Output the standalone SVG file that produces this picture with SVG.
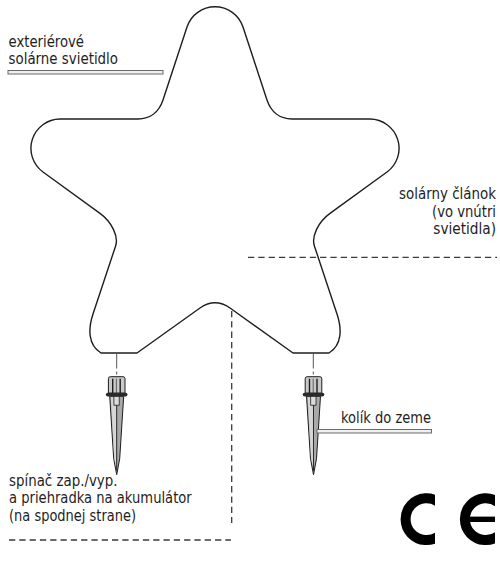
<svg xmlns="http://www.w3.org/2000/svg" width="500" height="562" viewBox="0 0 500 562">
  <style>
    .outline{fill:none;stroke:#1e1e1e;stroke-width:1.4;stroke-linejoin:round}
    .lbl{font-family:"Liberation Sans Narrow","DejaVu Sans Condensed","Liberation Sans",sans-serif;font-size:15.5px;fill:#1e1e1e}
    .r{text-anchor:end}
    .dash{fill:none;stroke:#3a3a3a;stroke-width:1.3;stroke-dasharray:6.3 4}
    .stub{fill:none;stroke:#555;stroke-width:1;stroke-dasharray:15 3 3 3}
    .dbl{fill:#f0f0f0;stroke:#6a6a6a;stroke-width:1}
    .ce{fill:none;stroke:#000;stroke-width:10}
  </style>
  <defs>
    <!-- ground stake, origin at top centre of the cap -->
    <g id="stake-shape">
      <path d="M -7,19.5 H 7 L 3,82 L 0,98 L -3,82 Z" fill="#a9a9a9" stroke="#1e1e1e" stroke-width="1" stroke-linejoin="round"/>
      <path d="M -5.8,20.5 H -0.6 V 90 L -2.4,82 Z" fill="#d6d6d6"/>
      <path d="M 0,20 V 94" stroke="#1e1e1e" stroke-width="0.9"/>
      <rect x="-2.8" y="19.5" width="5.3" height="9" fill="#dcdcdc" stroke="#1e1e1e" stroke-width="0.8"/>
      <path d="M -8.3,16.5 V 2 Q -8.3,0 -6.3,0 H 6.3 Q 8.3,0 8.3,2 V 16.5 Z" fill="#c9c9c9" stroke="#1e1e1e" stroke-width="1"/>
      <path d="M -4,2 V 16.5 M 3.5,2 V 16.5" stroke="#1e1e1e" stroke-width="1.4"/>
      <path d="M -0.3,2 V 16.5" stroke="#444" stroke-width="0.8"/>
      <rect x="-10.8" y="16" width="21.6" height="3.8" rx="1.9" fill="#2a2a2a"/>
    </g>
    <clipPath id="clip-c"><rect x="390" y="488" width="45" height="64"/></clipPath>
    <clipPath id="clip-e"><rect x="450" y="488" width="45" height="64"/></clipPath>
  </defs>

  <!-- star-shaped lamp body -->
  <g id="lamp">
    <path class="outline" d="M 187,27 A 29.5 29.5 0 0 1 243,27 L 267,100 C 271,112 280,119 292,119 L 370,119 A 29.3 29.3 0 0 1 387,172 L 330,213.4 C 318.2,221.9 311.2,236.6 314.4,246 L 337,314 C 342,329 342,345 329,353 L 293,353 L 230,308 Q 215,297.5 200,308 L 137,353 L 101,353 C 88,345 88,329 93,314 L 115.6,246 C 118.8,236.6 111.8,221.9 100,213.4 L 43,172 A 29.3 29.3 0 0 1 60,119 L 138,119 C 150,119 159,112 163,100 Z"/>
  </g>

  <!-- stakes -->
  <g id="stake-left"><use href="#stake-shape" x="116.7" y="376.7"/></g>
  <g id="stake-right"><use href="#stake-shape" x="313.5" y="376.7"/></g>

  <!-- leaders and dashed reference lines -->
  <g id="connectors">
    <line class="stub" x1="116.7" y1="353.5" x2="116.7" y2="375"/>
    <line class="stub" x1="313.3" y1="353.5" x2="313.3" y2="375"/>
    <rect class="dbl" x="8" y="70.5" width="155" height="3.5"/>
    <rect class="dbl" x="317" y="429.5" width="114.5" height="3.5"/>
    <line class="dash" x1="248" y1="257.3" x2="497" y2="257.3"/>
    <line class="dash" x1="9" y1="540" x2="231" y2="540"/>
    <line class="dash" x1="231.7" y1="311" x2="231.7" y2="523"/>
  </g>

  <!-- labels -->
  <g id="label-lamp" class="lbl">
    <text x="8.5" y="47" textLength="75.5" lengthAdjust="spacingAndGlyphs">exteriérové</text>
    <text x="8.5" y="64" textLength="109.5" lengthAdjust="spacingAndGlyphs">solárne svietidlo</text>
  </g>
  <g id="label-cell" class="lbl r">
    <text x="496" y="199.3" textLength="97" lengthAdjust="spacingAndGlyphs">solárny článok</text>
    <text x="496" y="216.7" textLength="64" lengthAdjust="spacingAndGlyphs">(vo vnútri</text>
    <text x="496" y="234" textLength="62.7" lengthAdjust="spacingAndGlyphs">svietidla)</text>
  </g>
  <g id="label-stake" class="lbl r">
    <text x="431" y="422.7" textLength="90" lengthAdjust="spacingAndGlyphs">kolík do zeme</text>
  </g>
  <g id="label-switch" class="lbl">
    <text x="9" y="486" textLength="108.5" lengthAdjust="spacingAndGlyphs">spínač zap./vyp.</text>
    <text x="9" y="503.3" textLength="182.7" lengthAdjust="spacingAndGlyphs">a priehradka na akumulátor</text>
    <text x="9" y="520.7" textLength="127" lengthAdjust="spacingAndGlyphs">(na spodnej strane)</text>
  </g>

  <!-- conformity mark -->
  <g id="ce-mark">
    <path class="ce" clip-path="url(#clip-c)" d="M 439.7,503 A 20.9 20.9 0 1 0 439.7,535.4"/>
    <path class="ce" clip-path="url(#clip-e)" d="M 499,503 A 20.9 20.9 0 1 0 499,535.4"/>
    <rect x="469" y="516.6" width="26" height="5.4" fill="#000"/>
  </g>
</svg>
